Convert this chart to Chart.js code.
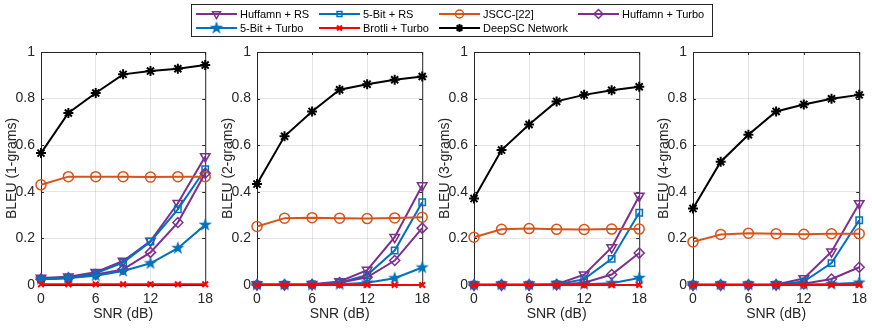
<!DOCTYPE html>
<html lang="en">
<head>
<meta charset="UTF-8">
<title>BLEU vs SNR</title>
<script src="https://cdn.jsdelivr.net/npm/chart.js"></script>
<style>
  body { margin: 0; background: #fff; }
  #wrap { position: relative; width: 872px; height: 328px; overflow: hidden; }
  #wrap canvas { position: absolute; top: 0; }
</style>
</head>
<body>
<div id="wrap">
  <canvas id="c0"></canvas>
  <canvas id="c1"></canvas>
  <canvas id="c2"></canvas>
  <canvas id="c3"></canvas>
  <canvas id="legend" width="872" height="40" style="left:0;z-index:5"></canvas>
</div>
<script>
// x values (dB)
const snr = [0, 3, 6, 9, 12, 15, 18];
const xTicks = [0, 6, 12, 18];
const yTitles = ['BLEU (1-grams)', 'BLEU (2-grams)', 'BLEU (3-grams)', 'BLEU (4-grams)'];

// one row per panel (1-gram .. 4-gram)
const huffRS = [
  [0.03, 0.035, 0.055, 0.103, 0.189, 0.351, 0.552],
  [0.002, 0.002, 0.003, 0.015, 0.064, 0.205, 0.427],
  [0.001, 0.001, 0.001, 0.003, 0.044, 0.161, 0.382],
  [0.001, 0.001, 0.001, 0.002, 0.028, 0.143, 0.35]
];
const bitRS = [
  [0.025, 0.03, 0.05, 0.096, 0.186, 0.325, 0.497],
  [0.001, 0.001, 0.002, 0.01, 0.043, 0.148, 0.355],
  [0.001, 0.001, 0.001, 0.002, 0.025, 0.112, 0.31],
  [0.001, 0.001, 0.001, 0.001, 0.015, 0.094, 0.278]
];
const jscc = [
  [0.43, 0.465, 0.465, 0.465, 0.463, 0.465, 0.465],
  [0.251, 0.287, 0.289, 0.287, 0.285, 0.288, 0.291],
  [0.205, 0.239, 0.242, 0.239, 0.238, 0.24, 0.24],
  [0.185, 0.217, 0.222, 0.22, 0.218, 0.22, 0.22]
];
const huffTurbo = [
  [0.025, 0.03, 0.045, 0.067, 0.14, 0.268, 0.48],
  [0.001, 0.001, 0.002, 0.01, 0.033, 0.105, 0.244],
  [0.0, 0.0, 0.0, 0.002, 0.01, 0.045, 0.137],
  [0.0, 0.0, 0.0, 0.001, 0.005, 0.026, 0.076]
];
const bitTurbo = [
  [0.025, 0.03, 0.04, 0.06, 0.093, 0.158, 0.258],
  [0.001, 0.001, 0.001, 0.003, 0.01, 0.029, 0.075],
  [0.001, 0.001, 0.001, 0.001, 0.003, 0.008, 0.03],
  [0.001, 0.001, 0.001, 0.001, 0.002, 0.004, 0.01]
];
const brotli = [
  [0.003, 0.003, 0.003, 0.003, 0.003, 0.003, 0.003],
  [0.0, 0.0, 0.0, 0.0, 0.0, 0.0, 0.0],
  [0.0, 0.0, 0.0, 0.0, 0.0, 0.0, 0.0],
  [0.0, 0.0, 0.0, 0.0, 0.0, 0.0, 0.0]
];
const deepsc = [
  [0.566, 0.738, 0.824, 0.904, 0.918, 0.928, 0.944],
  [0.433, 0.638, 0.745, 0.838, 0.862, 0.881, 0.895],
  [0.371, 0.579, 0.689, 0.788, 0.816, 0.836, 0.851],
  [0.328, 0.529, 0.645, 0.745, 0.775, 0.799, 0.816]
];

const PURPLE = '#7E2F8E', BLUE = '#0072BD', ORANGE = '#D95319', RED = '#FF0000', BLACK = '#000000';
const TEXT = '#262626';

// filled five-point star marker (MATLAB 'p')
function makeStar(color, R) {
  const c = document.createElement('canvas');
  c.width = c.height = Math.ceil(R * 2 + 2);
  const g = c.getContext('2d');
  const cx = c.width / 2, cy = c.height / 2;
  g.beginPath();
  for (let i = 0; i < 10; i++) {
    const r = i % 2 ? R * 0.4 : R;
    const a = -Math.PI / 2 + i * Math.PI / 5;
    g.lineTo(cx + r * Math.cos(a), cy + r * Math.sin(a));
  }
  g.closePath();
  g.fillStyle = color;
  g.fill();
  return c;
}
const starImg = makeStar(BLUE, 7);

// series definitions: name, data, color, marker
const series = [
  { name: 'Huffamn + RS', data: huffRS, color: PURPLE, style: 'triangle', rot: 180, r: 5.5, lr: 4.5 },
  { name: '5-Bit + RS', data: bitRS, color: BLUE, style: 'rect', rot: 0, r: 4.5, lr: 3.5 },
  { name: 'JSCC-[22]', data: jscc, color: ORANGE, style: 'circle', rot: 0, r: 5, lr: 4 },
  { name: 'Huffamn + Turbo', data: huffTurbo, color: PURPLE, style: 'rectRot', rot: 0, r: 5, lr: 4.5 },
  { name: '5-Bit + Turbo', data: bitTurbo, color: BLUE, style: starImg, rot: 0, r: 7, lr: 7 },
  { name: 'Brotli + Turbo', data: brotli, color: RED, style: 'crossRot', rot: 0, r: 4, lr: 3.5 },
  { name: 'DeepSC Network', data: deepsc, color: BLACK, style: 'star', rot: 0, r: 5, lr: 4 }
];

Chart.defaults.font.family = '"Liberation Sans", Arial, sans-serif';
Chart.defaults.font.size = 14;
Chart.defaults.color = TEXT;

// full box + inward tick marks like MATLAB
const boxPlugin = {
  id: 'box',
  beforeDatasetsDraw(chart) {
    const { ctx, chartArea: a, scales } = chart;
    ctx.save();
    ctx.strokeStyle = TEXT;
    ctx.lineWidth = 1;
    ctx.strokeRect(a.left + 0.5, a.top + 0.5, a.right - a.left, a.bottom - a.top);
    ctx.beginPath();
    scales.x.ticks.forEach(t => {
      const x = Math.round(scales.x.getPixelForValue(t.value)) + 0.5;
      ctx.moveTo(x, a.bottom); ctx.lineTo(x, a.bottom - 3);
      ctx.moveTo(x, a.top); ctx.lineTo(x, a.top + 3);
    });
    scales.y.ticks.forEach(t => {
      const y = Math.round(scales.y.getPixelForValue(t.value)) + 0.5;
      ctx.moveTo(a.left, y); ctx.lineTo(a.left + 3, y);
      ctx.moveTo(a.right, y); ctx.lineTo(a.right - 3, y);
    });
    ctx.stroke();
    ctx.restore();
  }
};

const plotLeft = [41, 257, 474, 693];
const plotRight = [209, 426, 643, 863];

for (let p = 0; p < 4; p++) {
  const cv = document.getElementById('c' + p);
  const left = plotLeft[p] - 41;
  cv.width = plotRight[p] + 10 - left;
  cv.height = 328;
  cv.style.left = left + 'px';

  const datasets = series.map((s, i) => ({
    label: s.name,
    data: snr.map((x, k) => ({ x: x, y: s.data[p][k] })),
    borderColor: s.color,
    backgroundColor: 'rgba(0,0,0,0)',
    borderWidth: 2,
    pointStyle: s.style,
    pointRotation: s.rot,
    pointRadius: s.r,
    pointHoverRadius: s.r,
    pointBorderWidth: (s.style === 'star' || s.style === 'crossRot') ? 2 : 1.5,
    pointBorderColor: s.color,
    pointBackgroundColor: 'rgba(0,0,0,0)',
    tension: 0,
    clip: false,
    order: series.length - i
  }));

  new Chart(cv, {
    type: 'line',
    data: { datasets },
    plugins: [boxPlugin],
    options: {
      responsive: false,
      animation: false,
      layout: { padding: { top: 52, right: 10, left: 0, bottom: 0 } },
      plugins: { legend: { display: false }, tooltip: { enabled: false } },
      scales: {
        x: {
          type: 'linear', min: 0, max: 18,
          afterBuildTicks: s => { s.ticks = xTicks.map(v => ({ value: v })); },
          afterFit: s => { s.height = 43; },
          grid: { color: 'rgba(38,38,38,0.12)', drawTicks: false },
          border: { display: false },
          ticks: { padding: 6, color: TEXT, maxRotation: 0 },
          title: { display: true, text: 'SNR (dB)', color: TEXT, padding: { top: 0, bottom: 5 } }
        },
        y: {
          min: 0, max: 1,
          ticks: {
            stepSize: 0.2, padding: 6, color: TEXT,
            callback: v => String(Math.round(v * 10) / 10)
          },
          afterFit: s => { s.width = 41; },
          grid: { color: 'rgba(38,38,38,0.12)', drawTicks: false },
          border: { display: false },
          title: { display: true, text: yTitles[p], color: TEXT, padding: { top: 4, bottom: 0 } }
        }
      }
    }
  });
}

// legend box drawn on its own canvas
(function drawLegend() {
  const ctx = document.getElementById('legend').getContext('2d');
  const boxL = 191, boxT = 4, boxR = 712, boxB = 36;
  ctx.fillStyle = '#fff';
  ctx.fillRect(boxL, boxT, boxR - boxL, boxB - boxT);
  ctx.strokeStyle = '#262626';
  ctx.lineWidth = 1;
  ctx.strokeRect(boxL + 0.5, boxT + 0.5, boxR - boxL, boxB - boxT);

  const colLine = [196, 319, 439, 578];
  const rowY = [14, 28];
  ctx.font = '11px "Liberation Sans", Arial, sans-serif';
  ctx.textBaseline = 'middle';
  series.forEach((s, i) => {
    const col = i % 4, row = Math.floor(i / 4);
    const x0 = colLine[col], y = rowY[row];
    ctx.strokeStyle = s.color;
    ctx.lineWidth = 2;
    ctx.beginPath();
    ctx.moveTo(x0, y); ctx.lineTo(x0 + 41, y);
    ctx.stroke();
    ctx.fillStyle = 'rgba(0,0,0,0)';
    ctx.lineWidth = (s.style === 'star' || s.style === 'crossRot') ? 2 : 1.5;
    Chart.helpers.drawPoint(ctx, { pointStyle: s.style, rotation: s.rot, radius: s.lr, borderWidth: ctx.lineWidth }, x0 + 20.5, y);
    ctx.fillStyle = '#000';
    ctx.fillText(s.name, x0 + 44, y + 0.5);
  });
})();
</script>
</body>
</html>
